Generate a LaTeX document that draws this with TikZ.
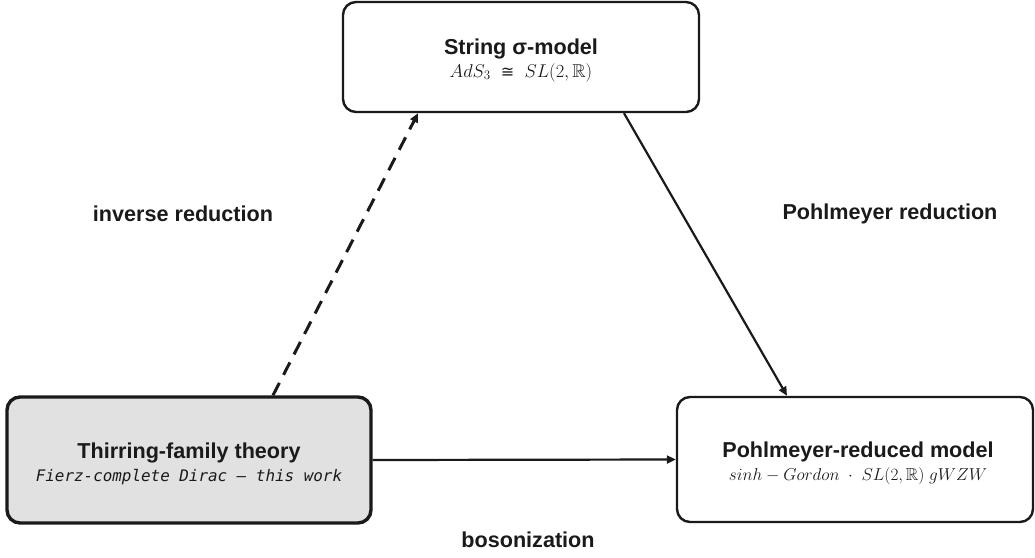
\documentclass[tikz,border=0pt]{standalone}
\usepackage{fix-cm}
\usepackage{amsmath,amssymb}
\usepackage{fontspec}
\setmainfont{Liberation Sans}
\newfontfamily\monoit{DejaVu Sans Mono}
\newfontfamily\symf{DejaVu Sans}
\usetikzlibrary{arrows.meta}
\definecolor{ink}{HTML}{1A1A1A}
\definecolor{boxgray}{HTML}{E1E1E1}
\tikzset{
  every node/.style={text=ink, inner sep=0pt},
  stagebox/.style={draw=ink, rounded corners=13pt, line width=2.4pt, fill=white, inner sep=0pt},
  workbox/.style={stagebox, line width=3.4pt, fill=boxgray},
  boxtext/.style={align=center, font=\fontsize{18.5}{23}\selectfont},
  lbl/.style={font=\bfseries\fontsize{21.6}{24}\selectfont},
  conn/.style={draw=ink, line width=2.2pt, -{Triangle[length=9pt,width=8pt]}},
  dconn/.style={conn, line width=3pt, dash pattern=on 14pt off 9pt},
}
\newcommand{\ttlf}{\bfseries\fontsize{21.6}{23}\selectfont}
\newcommand{\subm}{\fontsize{18.5}{23}\selectfont}
\newcommand{\congsym}{\mathrel{\text{\symf\fontsize{16}{23}\selectfont ≅}}}
\begin{document}
\begin{tikzpicture}[x=1pt,y=-1pt]
\useasboundingbox (0,0) rectangle (1035,557);
\node[stagebox, minimum width=356pt, minimum height=110pt] (T) at (521,57) {};
\node[boxtext] (Tt) at (521,60) {{\ttlf String σ-model}\\{\subm $AdS_3 \;\congsym\; SL(2,\mathbb{R})$}};

\node[workbox, minimum width=364pt, minimum height=126pt] (L) at (189,460) {};
\node[boxtext] (Lt) at (189,463.5) {{\ttlf Thirring-family theory}\\{\monoit\itshape\fontsize{15.9}{23}\selectfont Fierz-complete Dirac — this work}};

\node[stagebox, minimum width=356pt, minimum height=125pt] (R) at (855,459.5) {};
\node[boxtext] (Rt) at (858,463.7) {{\ttlf Pohlmeyer-reduced model}\\{\fontsize{17.2}{23}\selectfont $sinh - Gordon\;\cdot\;SL(2,\mathbb{R})\;gWZW$}};

\draw[dconn] ([xshift=84pt]L.north) -- ([xshift=-103pt]T.south);
\draw[conn] ([xshift=103pt]T.south) -- ([xshift=-68pt]R.north);
\draw[conn] (L.east) -- (R.west);

\node[lbl] (l1) at (183,214) {inverse reduction};
\node[lbl] (l2) at (890,214) {Pohlmeyer reduction};
\node[lbl] (l3) at (528,540) {bosonization};
\end{tikzpicture}
\end{document}
